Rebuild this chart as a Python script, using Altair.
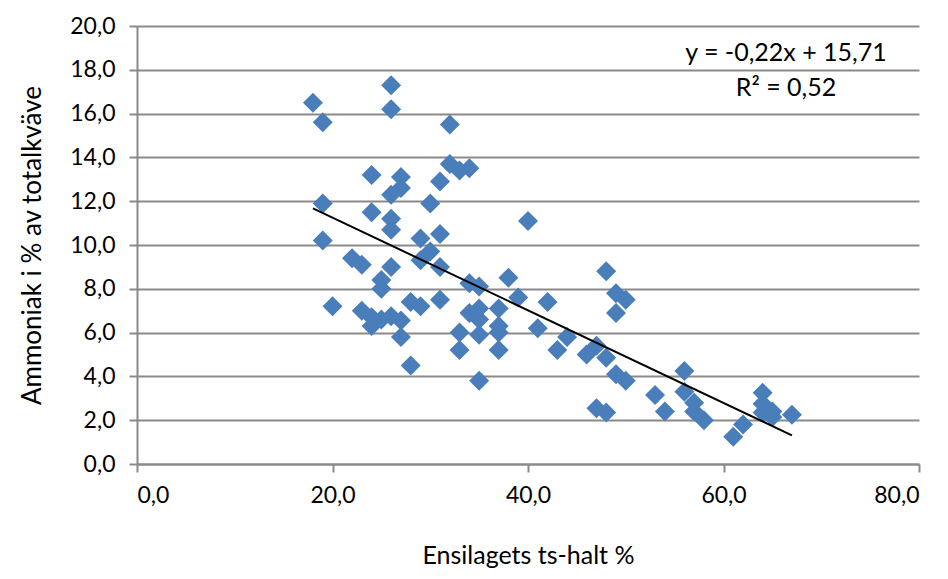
import altair as alt
import pandas as pd

ts_halt = [18, 19, 19, 19, 20, 22, 23, 23, 24, 24, 24, 24, 25, 25, 25, 26, 26, 26, 26, 26, 26, 26,
           27, 27, 27, 27, 28, 28, 29, 29, 29, 30, 30, 31, 31, 31, 31, 32, 32, 33, 34, 33, 33, 34, 34,
           35, 35, 35, 35, 35, 37, 37, 37, 37, 38, 39, 40, 41, 42, 43, 44, 46, 47, 47, 48, 48, 48,
           49, 49, 49, 50, 50, 53, 54, 56, 56, 57, 57, 58, 61, 62, 64, 64, 64, 65, 65, 67]
ammoniak = [16.5, 15.6, 11.9, 10.2, 7.2, 9.4, 9.1, 7.0, 13.2, 11.5, 6.7, 6.3, 8.4, 8.0, 6.6, 17.3, 16.2,
            12.3, 11.2, 10.7, 9.0, 6.75, 13.1, 12.6, 6.55, 5.8, 4.5, 7.4, 10.3, 9.3, 7.2, 11.9, 9.7,
            12.9, 10.5, 9.0, 7.5, 15.5, 13.7, 13.4, 13.5, 6.0, 5.2, 8.25, 6.9, 8.1, 7.1, 6.6, 5.9, 3.8,
            7.1, 6.3, 6.0, 5.2, 8.5, 7.6, 11.1, 6.2, 7.4, 5.2, 5.8, 5.0, 5.4, 2.55, 8.8, 4.85, 2.35,
            7.8, 6.9, 4.1, 7.5, 3.8, 3.15, 2.4, 4.25, 3.3, 2.8, 2.4, 2.0, 1.25, 1.8, 3.25, 2.75, 2.35,
            2.15, 2.4, 2.25]
equation = "y = -0,22x + 15,71"
r_squared = "R² = 0,52"

df = pd.DataFrame({"ts": ts_halt, "nh3": ammoniak})

FONT = "Lato"
GRID = "#8a8a8a"
fmt = "replace(format(datum.value, '.1f'), '.', ',')"

x_enc = alt.X("ts:Q", scale=alt.Scale(domain=[0, 80], nice=False),
              axis=alt.Axis(values=[0, 20, 40, 60, 80], title="Ensilagets ts-halt %",
                            labelExpr=fmt, grid=False, labelPadding=12, titlePadding=36,
                            titleFontSize=25))
y_enc = alt.Y("nh3:Q", scale=alt.Scale(domain=[0, 20], nice=False),
              axis=alt.Axis(values=list(range(0, 21, 2)), title="Ammoniak i % av totalkväve",
                            labelExpr=fmt, grid=True, labelPadding=14, titlePadding=24,
                            titleFontSize=26))

points = alt.Chart(df).mark_point(shape="diamond", filled=True, size=400, opacity=1,
                                  color="#4a7ebb").encode(x=x_enc, y=y_enc)

trend = alt.Chart(df).transform_regression("ts", "nh3").mark_line(
    color="black", strokeWidth=2).encode(x="ts:Q", y="nh3:Q")

eq_text = alt.Chart(pd.DataFrame({"t": [equation]})).mark_text(
    font=FONT, fontSize=25, color="black", align="center", baseline="middle").encode(
    x=alt.value(649), y=alt.value(27), text="t:N")
r2_text = alt.Chart(pd.DataFrame({"t": [r_squared]})).mark_text(
    font=FONT, fontSize=25, color="black", align="center", baseline="middle").encode(
    x=alt.value(649), y=alt.value(62), text="t:N")

chart = alt.layer(points, trend, eq_text, r2_text).properties(
    width=782, height=438,
    padding={"left": 129, "top": 18, "right": 20, "bottom": 104},
    autosize=alt.AutoSizeParams(type="none"),
).configure_view(stroke=None).configure_axis(
    labelFont=FONT, titleFont=FONT, labelFontSize=23,
    labelColor="black", titleColor="black", titleFontWeight="normal",
    domainColor=GRID, domainWidth=2, tickColor=GRID, tickWidth=2, tickSize=8,
    gridColor=GRID, gridWidth=2,
)

chart.save("out.html", embed_options={"renderer": "svg", "actions": False})
